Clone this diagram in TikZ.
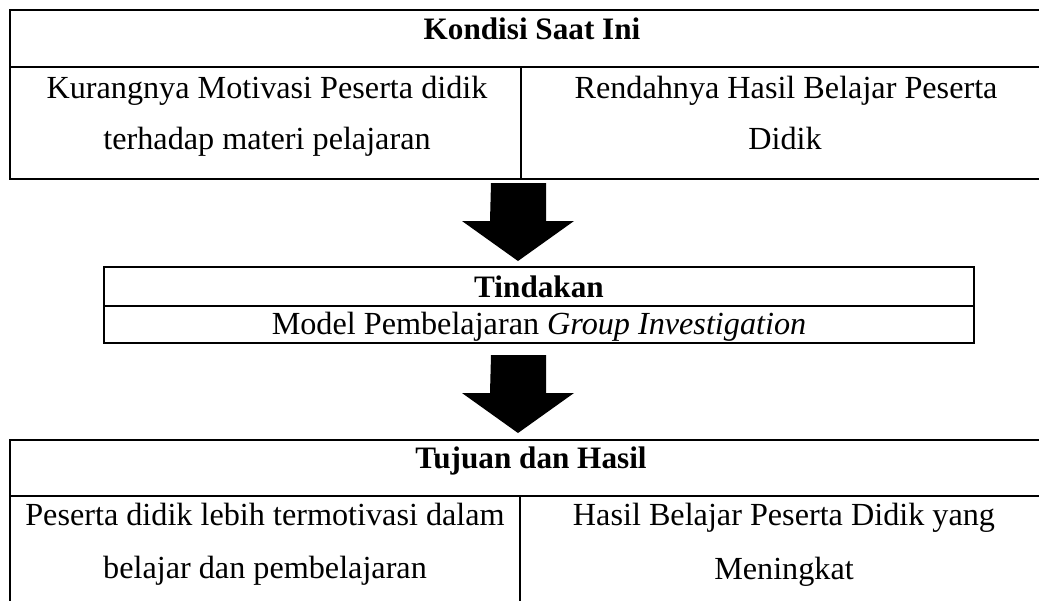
\documentclass[tikz,border=0pt]{standalone}
\usepackage{fontspec}
\setmainfont{Liberation Serif}
\begin{document}
\begin{tikzpicture}[x=0.5pt,y=-0.5pt,
  frame/.style={line width=1.25pt},
  coldiv/.style={line width=1.0pt},
  txt/.style={anchor=base,inner sep=0pt,font=\fontsize{16.1}{19}\selectfont},
  head/.style={txt,font=\fontsize{15.6}{19}\selectfont\bfseries},
  blockarrow/.style={fill=black,draw=none}]
\useasboundingbox (0,0) rectangle (1039,600);
\clip (0,0) rectangle (1039,600);
% top table
\draw[frame] (1070,10) -- (10,10) -- (10,179) -- (1070,179);
\draw[frame] (10,67) -- (1070,67);
\draw[coldiv] (521,67) -- (521,179);
% middle box
\draw[frame] (104,267) rectangle (974,343);
\draw[frame] (104,306) -- (974,306);
% bottom table
\draw[frame] (1070,440) -- (10,440) -- (10,620);
\draw[frame] (10,496) -- (1070,496);
\draw[coldiv] (520,496) -- (520,620);
% block arrows
\coordinate (a1) at (518.5,183);
\coordinate (a2) at (518.5,355);
\fill[blockarrow] (a1) ++(-27.5,0) -- ++(55,0) -- ++(0,38) -- ++(28,0) -- ++(-56,40) -- ++(-56,-40) -- ++(28,0) -- cycle;
\fill[blockarrow] (a2) ++(-27.5,0) -- ++(55,0) -- ++(0,38) -- ++(28,0) -- ++(-56,40) -- ++(-56,-40) -- ++(28,0) -- cycle;
% texts
\node[head] (h1) at (532,39) {Kondisi Saat Ini};
\node[txt] (l1a) at (267,98) {Kurangnya Motivasi Peserta didik};
\node[txt] (l1b) at (267,149) {terhadap materi pelajaran};
\node[txt] (r1a) at (786,98) {Rendahnya Hasil Belajar Peserta};
\node[txt] (r1b) at (785,149) {Didik};
\node[head] (h2) at (539,297) {Tindakan};
\node[txt] (m2) at (539,334) {Model Pembelajaran \textit{Group Investigation}};
\node[head] (h3) at (531,468) {Tujuan dan Hasil};
\node[txt] (l3a) at (265,525) {Peserta didik lebih termotivasi dalam};
\node[txt] (l3b) at (265,578) {belajar dan pembelajaran};
\node[txt] (r3a) at (784,525) {Hasil Belajar Peserta Didik yang};
\node[txt] (r3b) at (784,579) {Meningkat};
\end{tikzpicture}
\end{document}
